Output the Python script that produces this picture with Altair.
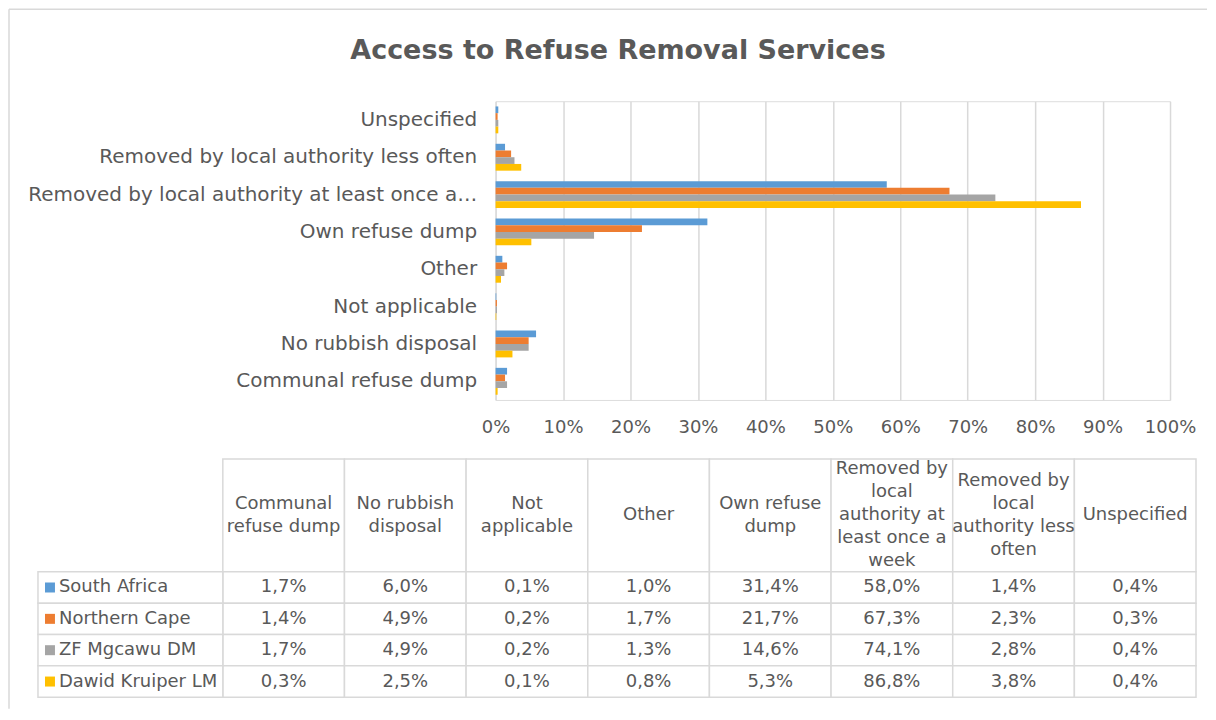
import altair as alt
import pandas as pd

FONT = "DejaVu Sans"
TEXT_COLOR = "#595959"
LINE_COLOR = "#D9D9D9"

categories = [
    "Communal refuse dump",
    "No rubbish disposal",
    "Not applicable",
    "Other",
    "Own refuse dump",
    "Removed by local authority at least once a week",
    "Removed by local authority less often",
    "Unspecified",
]
header_labels = [
    "Communal\nrefuse dump",
    "No rubbish\ndisposal",
    "Not\napplicable",
    "Other",
    "Own refuse\ndump",
    "Removed by\nlocal\nauthority at\nleast once a\nweek",
    "Removed by\nlocal\nauthority less\noften",
    "Unspecified",
]
series = ["South Africa", "Northern Cape", "ZF Mgcawu DM", "Dawid Kruiper LM"]
south_africa = [1.7, 6.0, 0.1, 1.0, 31.4, 58.0, 1.4, 0.4]
northern_cape = [1.4, 4.9, 0.2, 1.7, 21.7, 67.3, 2.3, 0.3]
zf_mgcawu = [1.7, 4.9, 0.2, 1.3, 14.6, 74.1, 2.8, 0.4]
dawid_kruiper = [0.3, 2.5, 0.1, 0.8, 5.3, 86.8, 3.8, 0.4]
colors = ["#5B9BD5", "#ED7D31", "#A5A5A5", "#FFC000"]
x_ticks = [0, 10, 20, 30, 40, 50, 60, 70, 80, 90, 100]

rows = []
for s, vals in zip(series, [south_africa, northern_cape, zf_mgcawu, dawid_kruiper]):
    for c, v in zip(categories, vals):
        rows.append({"category": c, "series": s, "value": v})
df = pd.DataFrame(rows)

hdf = pd.DataFrame({"category": categories})
line_rows = []
for c, h in zip(categories, header_labels):
    parts = h.split("\n")
    n = len(parts)
    for i, p in enumerate(parts):
        line_rows.append({"category": c, "line": p, "slot": i - (n - 1) / 2})
hldf = pd.DataFrame(line_rows)
ldf = pd.DataFrame({"series": series})
one = pd.DataFrame({"k": [0]})

color_scale = alt.Scale(domain=series, range=colors)

bars = alt.Chart(df).mark_bar().encode(
    x=alt.X(
        "value:Q",
        scale=alt.Scale(domain=[0, 100], nice=False, zero=True),
        axis=alt.Axis(
            values=x_ticks, labelExpr="datum.value + '%'", grid=True,
            gridColor=LINE_COLOR, gridWidth=1.5, domain=False, ticks=False,
            labelFontSize=18, labelColor=TEXT_COLOR, labelFont=FONT,
            labelPadding=19, labelFlush=False, labelOverlap=False, title=None,
        ),
    ),
    y=alt.Y(
        "category:N", sort=categories[::-1],
        scale=alt.Scale(paddingInner=0.28, paddingOuter=0.14),
        axis=alt.Axis(
            title=None, domain=False, ticks=False, grid=False, labelFontSize=20,
            labelColor=TEXT_COLOR, labelFont=FONT, labelPadding=19, labelLimit=452,
        ),
    ),
    yOffset=alt.YOffset("series:N", sort=series, scale=alt.Scale(paddingInner=0, paddingOuter=0)),
    color=alt.Color("series:N", scale=color_scale, legend=None),
)

TX = alt.Scale(domain=categories, range=[-273, 701], paddingInner=0, paddingOuter=0)
TY = alt.Scale(domain=series, range=[471, 596.5], paddingInner=0, paddingOuter=0)
HY = alt.Scale(domain=[-2, 2], range=[368.5, 460.5])
tx = alt.X("category:N", scale=TX, axis=None)
ty = alt.Y("series:N", scale=TY, axis=None)

cell_style = dict(fill="white", stroke=LINE_COLOR, strokeWidth=1.5)
text_style = dict(font=FONT, fontSize=18, color=TEXT_COLOR)

header_cells = alt.Chart(hdf).mark_rect(**cell_style).encode(
    x=tx, y=alt.value(358), y2=alt.value(471)
)
header_text = alt.Chart(hldf).mark_text(
    align="center", baseline="middle", **text_style
).encode(x=tx, y=alt.Y("slot:Q", scale=HY, axis=None), text="line:N")

cells = alt.Chart(df).mark_rect(**cell_style).encode(x=tx, y=ty)
cell_text = alt.Chart(df).transform_calculate(
    label="replace(format(datum.value, '.1f'), '.', ',') + '%'"
).mark_text(align="center", baseline="middle", **text_style).encode(
    x=tx, y=ty, text="label:N"
)

legend_cells = alt.Chart(ldf).mark_rect(**cell_style).encode(
    x=alt.value(-458), x2=alt.value(-273), y=ty
)
legend_squares = alt.Chart(ldf).mark_square(size=100, opacity=1).encode(
    x=alt.value(-446), y=ty, color=alt.Color("series:N", scale=color_scale, legend=None)
)
legend_text = alt.Chart(ldf).mark_text(align="left", baseline="middle", **text_style).encode(
    x=alt.value(-437), y=ty, text="series:N"
)

top_border = alt.Chart(one).mark_rule(color=LINE_COLOR, strokeWidth=1.5).encode(
    x=alt.value(-487), x2=alt.value(712), y=alt.value(-92)
)
left_border = alt.Chart(one).mark_rule(color=LINE_COLOR, strokeWidth=1.5).encode(
    x=alt.value(-487), y=alt.value(-92), y2=alt.value(608)
)

chart = alt.layer(
    top_border, left_border, bars,
    header_cells, cells, legend_cells,
    header_text, cell_text, legend_squares, legend_text,
).resolve_scale(
    x="independent", y="independent"
).properties(
    width=675, height=299, padding=0,
    title=alt.Title(
        "Access to Refuse Removal Services", font=FONT, fontSize=27,
        fontWeight="bold", color=TEXT_COLOR, anchor="middle", frame="bounds",
        offset=-56, dx=10,
    ),
).configure_view(stroke="transparent", strokeOpacity=0).configure(background="white")

chart.save("out.html", embed_options={"renderer": "svg", "actions": False})
